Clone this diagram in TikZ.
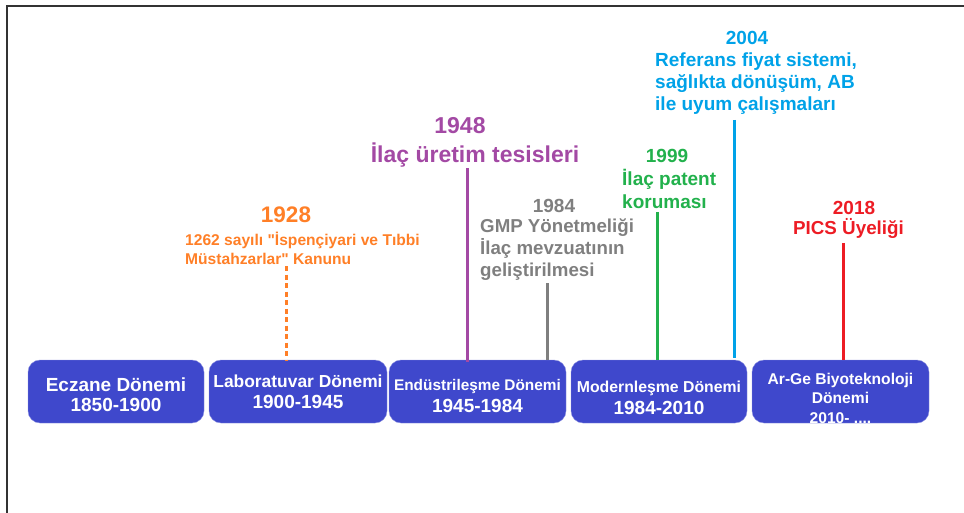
\documentclass[tikz,border=0pt]{standalone}
\usepackage{fontspec}
\setmainfont{Liberation Sans}[Ligatures=TeXOff]
\usetikzlibrary{positioning}
\definecolor{dindigo}{HTML}{3F48CC}
\definecolor{porange}{HTML}{FF7F27}
\definecolor{ppurple}{HTML}{A349A4}
\definecolor{pgray}{HTML}{7F7F7F}
\definecolor{pgreen}{HTML}{22B14C}
\definecolor{pcyan}{HTML}{00A2E8}
\definecolor{pred}{HTML}{ED1C24}
\begin{document}
\begin{tikzpicture}[x=1pt,y=-1pt,
                  period/.style={rectangle,rounded corners=12pt,fill=dindigo,draw=dindigo!60,
                    minimum height=63pt,inner sep=0pt},
                  periodtxt/.style={text=white,align=center,inner sep=0pt},
                  yr/.style={font=\bfseries\fontsize{19}{19}\selectfont,inner sep=0pt},
                  note/.style={font=\bfseries\fontsize{19}{22}\selectfont,align=left,
                    inner sep=0pt,anchor=west},
                  stem/.style={line width=3pt}
                  ]
                  \useasboundingbox (0,0) rectangle (964,513);
                  \draw[line width=2pt,black!80] (7,513) -- (7,6) -- (964,6);

                  \node[period,minimum width=176pt] (D1) at (116,391.5)   {};
                  \node[period,minimum width=178pt] (D2) at (298,391.5)   {};
                  \node[period,minimum width=177pt] (D3) at (477.5,391.5) {};
                  \node[period,minimum width=176pt] (D4) at (659,391.5)   {};
                  \node[period,minimum width=177pt] (D5) at (840.5,391.5) {};

                  \node[periodtxt,font=\bfseries\fontsize{19}{20}\selectfont] (T1) at (116,395)
                    {Eczane Dönemi\\1850-1900};
                  \node[periodtxt,font=\bfseries\fontsize{19}{21}\selectfont] (T2) at (298,391.5)
                    {{\fontsize{17.4}{21}\selectfont Laboratuvar Dönemi}\\1900-1945};
                  \node[periodtxt,font=\bfseries\fontsize{19}{22}\selectfont] (T3) at (477.5,396)
                    {{\fontsize{15.4}{22}\selectfont Endüstrileşme Dönemi}\\1945-1984};
                  \node[periodtxt,font=\bfseries\fontsize{19}{22}\selectfont] (T4) at (659,398)
                    {{\fontsize{15.8}{22}\selectfont Modernleşme Dönemi}\\1984-2010};
                  \node[periodtxt,font=\bfseries\fontsize{15.6}{19.5}\selectfont] (T5) at (840.5,398)
                    {Ar-Ge Biyoteknoloji\\Dönemi\\2010- ....};

                  \node[yr,porange,font=\bfseries\fontsize{22.5}{22.5}\selectfont] (Y1928) at (286,215) {1928};
                  \node[note,porange,font=\bfseries\fontsize{15.6}{19}\selectfont] (E1928) at (185,248.5)
                    {1262 sayılı "İspençiyari ve Tıbbi\\Müstahzarlar" Kanunu};
                  \node[yr,ppurple,font=\bfseries\fontsize{23}{23}\selectfont] (Y1948) at (460,126) {1948};
                  \node[yr,ppurple,font=\bfseries\fontsize{23}{23}\selectfont] (E1948) at (475,155) {İlaç üretim tesisleri};
                  \node[yr,pgray] (Y1984) at (554,206) {1984};
                  \node[note,pgray,font=\bfseries\fontsize{18.7}{22}\selectfont] (E1984) at (480,250)
                    {GMP Yönetmeliği\\İlaç mevzuatının\\geliştirilmesi};
                  \node[yr,pgreen] (Y1999) at (667,156) {1999};
                  \node[note,pgreen,font=\bfseries\fontsize{19}{23}\selectfont] (E1999) at (622,188.5)
                    {İlaç patent\\koruması};
                  \node[yr,pcyan] (Y2004) at (747,38) {2004};
                  \node[note,pcyan] (E2004) at (655,84)
                    {Referans fiyat sistemi,\\sağlıkta dönüşüm, AB\\ile uyum çalışmaları};
                  \node[yr,pred] (Y2018) at (854,208) {2018};
                  \node[yr,pred,font=\bfseries\fontsize{18.8}{19}\selectfont] (E2018) at (848.5,228) {PICS Üyeliği};

                  \coordinate (S1928) at (286,266);
                  \coordinate (S1948) at (467,168);
                  \coordinate (S1984) at (547,283);
                  \coordinate (S1999) at (657,212);
                  \coordinate (S2004) at (734,120);
                  \coordinate (S2018) at (843,243);
                  \draw[stem,porange,dash pattern=on 5pt off 3.5pt] (S1928) -- (S1928 |- D2.north);
                  \draw[stem,ppurple] (S1948) -- ([yshift=-2pt]S1948 |- D3.north);
                  \draw[stem,pgray]   (S1984) -- (S1984 |- D3.north);
                  \draw[stem,pgreen]  (S1999) -- (S1999 |- D4.north);
                  \draw[stem,pcyan]   (S2004) -- ([yshift=2pt]S2004 |- D4.north);
                  \draw[stem,pred]    (S2018) -- (S2018 |- D5.north);
                \end{tikzpicture}
\end{document}
